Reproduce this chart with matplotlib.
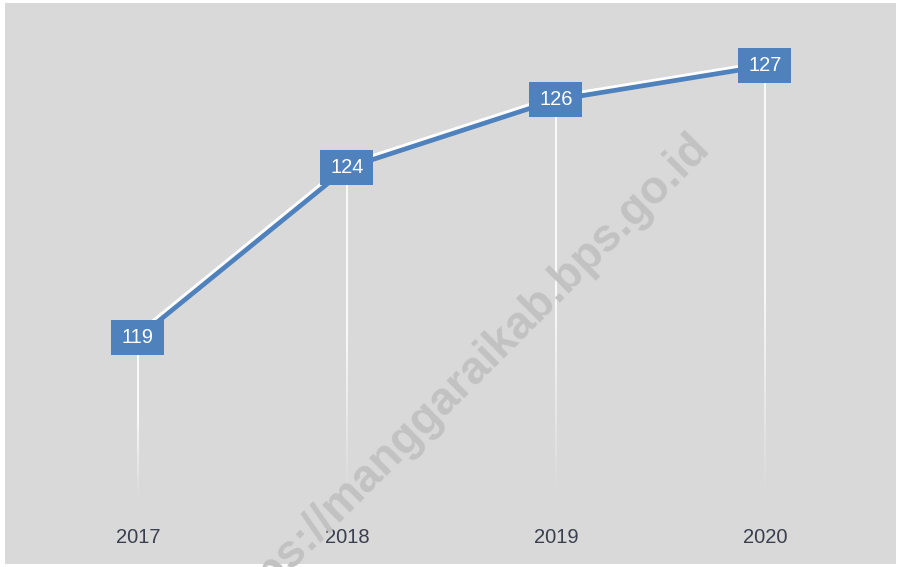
import matplotlib
matplotlib.use("Agg")
import matplotlib.pyplot as plt
import numpy as np
from matplotlib.collections import LineCollection
from matplotlib.patches import Rectangle
from matplotlib.transforms import ScaledTranslation
import matplotlib.patheffects as pe

years = ["2017", "2018", "2019", "2020"]
values = [119, 124, 126, 127]
watermark = "https://manggaraikab.bps.go.id"

BG = "#d9d9d9"
BLUE = "#4f81bd"
LABEL_FONT = ["Liberation Sans", "DejaVu Sans"]

fig = plt.figure(figsize=(8.97, 5.67), dpi=100, facecolor="white")
ax = fig.add_axes([5/897, 3/567, 891/897, 561/567])
ax.set_facecolor(BG)
for s in ax.spines.values():
    s.set_visible(False)
ax.set_xticks([])
ax.set_yticks([])

x = np.arange(len(years))
ax.set_xlim(-0.636, 3.627)
ax.set_ylim(112.35, 128.85)

# drop lines with fade at the bottom
drop_bottom = 114.3
for xi, v in zip(x, values):
    ys = np.linspace(v, drop_bottom, 60)
    segs = [[(xi, ys[i]), (xi, ys[i + 1])] for i in range(len(ys) - 1)]
    t = np.linspace(0, 1, len(segs))
    alphas = np.clip((1 - t) / 0.5, 0, 1) * 0.95
    cols = [(1, 1, 1, a) for a in alphas]
    lc = LineCollection(segs, colors=cols, linewidths=1.3, zorder=2)
    ax.add_collection(lc)

# year labels
for xi, yr in zip(x, years):
    ax.text(xi, 113.12, yr, ha="center", va="center", fontsize=14.5,
            color="#3a3f4f", family=LABEL_FONT, zorder=6)

# watermark
fig.text(462/897, 1 - 381/567, watermark, rotation=45, rotation_mode="anchor",
         ha="center", va="center", fontsize=33, fontweight="bold",
         color="#c2c2c2", family=["Liberation Sans", "DejaVu Sans"], zorder=5)

# main line with white highlight
ax.plot(x, values, color=BLUE, linewidth=3.4, solid_capstyle="round", zorder=7,
        path_effects=[pe.Stroke(offset=(-1.2, 2.0), linewidth=3.0, foreground="white"),
                      pe.Normal()])

# data label boxes
for xi, v in zip(x, values):
    tr = fig.dpi_scale_trans + ScaledTranslation(xi, v, ax.transData)
    ax.add_patch(Rectangle((-0.265, -0.175), 0.53, 0.35, transform=tr,
                           facecolor=BLUE, edgecolor="none", zorder=8, clip_on=False))
    ax.text(xi, v, str(v), ha="center", va="center", fontsize=14.5,
            color="white", family=LABEL_FONT, zorder=9)

fig.savefig("out.png", dpi=100, facecolor="white")
